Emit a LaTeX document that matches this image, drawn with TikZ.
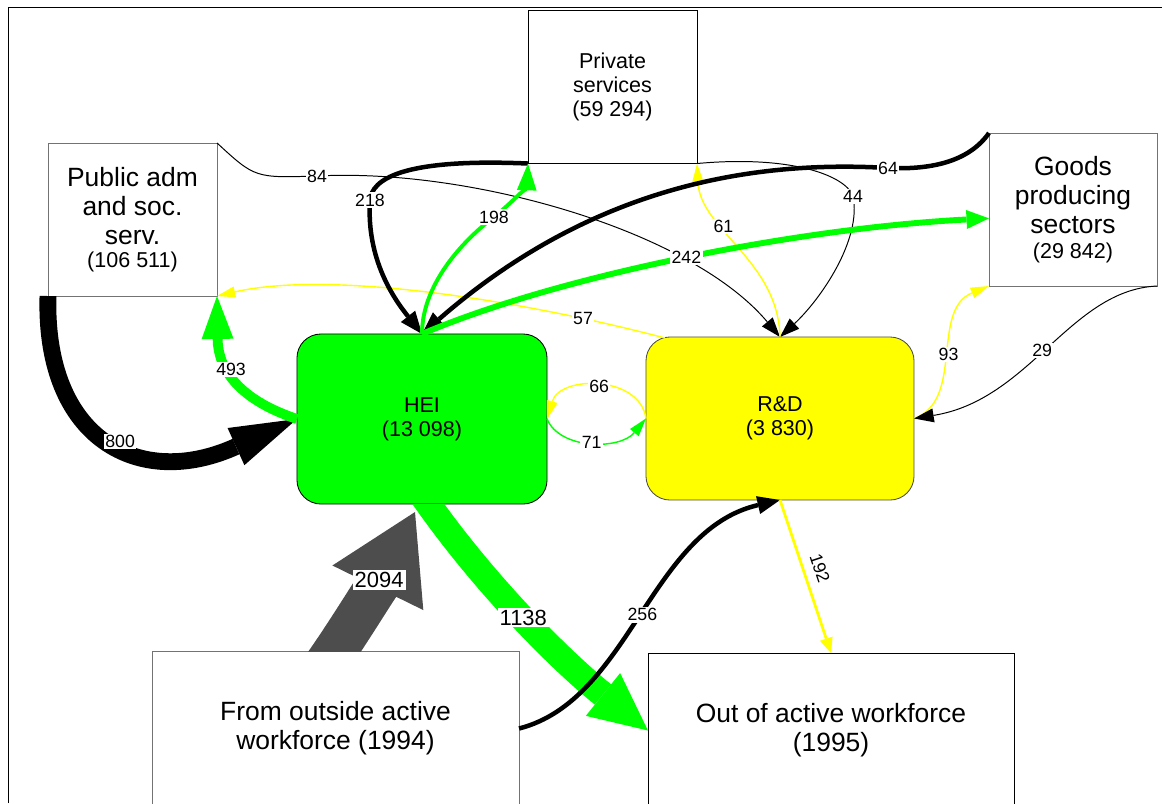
\documentclass[tikz,border=0pt]{standalone}
\usepackage{fontspec}
\setmainfont{Liberation Sans}
\usetikzlibrary{arrows.meta}
\definecolor{heigreen}{RGB}{0,255,0}
\definecolor{rdyellow}{RGB}{255,255,0}
\definecolor{bandgray}{RGB}{77,77,77}
\newcommand\bigtxt{\fontsize{18.8}{20.6}\selectfont}
\newcommand\midtxt{\fontsize{15.3}{17}\selectfont}
\newcommand\numtxt{\fontsize{12.6}{14}\selectfont}
\newcommand\bandtxt{\fontsize{15.6}{17}\selectfont}

\begin{document}
\begin{tikzpicture}[x=0.025cm, y=-0.025cm,
  sect/.style={draw, line width=0.6pt, fill=white, align=center, font=\bigtxt, inner sep=0pt, outer sep=0pt, minimum width=4.225cm, minimum height=3.825cm},
  unit/.style={draw, line width=0.6pt, rounded corners=0.6cm, align=center, font=\midtxt, inner sep=0pt, outer sep=0pt},
  lbl/.style={fill=white, text=black, inner sep=1pt, font=\numtxt},
  bandlbl/.style={fill=white, text=black, inner sep=1.5pt, font=\bandtxt},
  flow/.style n args={3}{line width=#1, -{Triangle[length=#2, width=#3, line width=0pt]}}
]
\useasboundingbox (0,0) rectangle (1162,803);
\draw[line width=0.7pt] (8,803) -- (8,7) -- (1162,7);

\node[sect, draw=black!55] (pub) at (132.5,219.5) {Public adm\\and soc.\\serv.\\[-4pt]{\midtxt (106 511)}};
\node[sect, font=\midtxt] (priv) at (612.5,87) {Private\\services\\(59 294)};
\node[sect, draw=black!55, minimum width=4.2cm] (goods) at (1073,209.5) {Goods\\producing\\sectors\\[-3pt]{\midtxt (29 842)}};
\node[unit, fill=heigreen, minimum width=6.25cm, minimum height=4.25cm] (hei) at (422,419) {HEI\\(13 098)};
\node[unit, fill=rdyellow, draw=black!70, minimum width=6.7cm, minimum height=4.075cm] (rd) at (780,418.5) {R\&D\\(3 830)};
\node[sect, draw=black!55, minimum width=9.175cm, minimum height=3.875cm] (outside) at (335.5,728.5) {From outside active\\workforce (1994)};
\node[sect, minimum width=9.15cm, minimum height=3.875cm] (outof) at (831,730.5) {Out of active workforce\\(1995)};

% public administration
\draw[flow={12pt}{47.6pt}{29pt}] (pub.south west) .. controls (44,440) and (140,490) .. (hei.west) node[lbl, pos=0.53] {800};
\draw[heigreen, flow={7pt}{30.5pt}{22.7pt}] (hei.west) .. controls (240,400) and (218,370) .. (pub.south east) node[lbl, pos=0.57] {493};
\draw[rdyellow, flow={1pt}{13pt}{8pt}] ([shift={(19,1)}]rd.north west) .. controls (520,300) and (330,270) .. (pub.south east) node[lbl, pos=0.18] {57};
\draw[flow={0.7pt}{14pt}{10pt}] (pub.north east) .. controls (255,178) .. (317,176) node[lbl] {84} .. controls (470,168) and (690,230) .. (rd.north);

% private services
\draw[flow={3.2pt}{16pt}{13pt}] (priv.south west) .. controls (400,158) and (372,180) .. (370,200) node[lbl] {218} .. controls (366,260) and (395,300) .. (hei.north);
\draw[heigreen, flow={2.8pt}{19pt}{14pt}] (hei.north) .. controls (422,280) and (470,235) .. (494,217) node[lbl] {198} .. controls (515,200) and (527,185) .. (priv.south west);
\draw[flow={0.7pt}{14pt}{10pt}] (priv.south east) .. controls (790,155) and (845,175) .. (853,196) node[lbl] {44} .. controls (862,240) and (820,300) .. (rd.north);
\draw[rdyellow, flow={1pt}{13pt}{8pt}] (rd.north) .. controls (778,260) and (700,230) .. (priv.south east) node[lbl, pos=0.63] {61};

% goods producing sectors
\draw[flow={3.2pt}{16pt}{13pt}] (goods.north west) .. controls (970,160) and (935,170) .. (888,168) node[lbl] {64} .. controls (720,158) and (570,205) .. (hei.north);
\draw[heigreen, flow={4.2pt}{16pt}{13.5pt}] (hei.north) .. controls (560,275) and (800,228) .. (goods.186) node[lbl, pos=0.5] {242};
\draw[rdyellow, flow={1pt}{13pt}{8pt}] (rd.east) .. controls (965,400) and (930,310) .. (goods.south west) node[lbl, pos=0.5] {93};
\draw[flow={0.7pt}{14pt}{10pt}] (goods.south east) .. controls (1070,290) and (1030,400) .. (rd.east) node[lbl, pos=0.52] {29};

% HEI and R&D
\draw[rdyellow, flow={1pt}{13pt}{8pt}] (rd.west) .. controls (640,375) and (560,375) .. (hei.east) node[lbl, pos=0.5] {66};
\draw[heigreen, flow={1pt}{13pt}{8pt}] (hei.east) .. controls (560,450) and (620,450) .. (rd.west) node[lbl, pos=0.5] {71};

% in and out of the active workforce
\begin{scope}
  \clip (0,0) rectangle (1162,651);
  \draw[bandgray, flow={31pt}{60pt}{72pt}] ([shift={(-10,14)}]outside.north) .. controls (357,620) and (390,563) .. ([shift={(-7,8)}]hei.south) node[bandlbl, pos=0.57] {2094};
\end{scope}
\begin{scope}
  \clip (0,504) rectangle (1162,803);
  \draw[heigreen, flow={18.5pt}{41pt}{39pt}] ([shift={(-3.5,-14)}]hei.south) .. controls (480,580) and (560,660) .. (outof.west) node[bandlbl, pos=0.5] {1138};
\end{scope}
\draw[flow={3.2pt}{16pt}{13pt}] (outside.east) .. controls (630,700) and (650,530) .. (rd.south) node[lbl, pos=0.5] {256};
\draw[rdyellow, flow={2pt}{10.7pt}{9.5pt}] (rd.south) -- (outof.north) node[font=\numtxt, text=black, inner sep=1pt, pos=0.48, sloped, above=5pt] {192};
\end{tikzpicture}
\end{document}
